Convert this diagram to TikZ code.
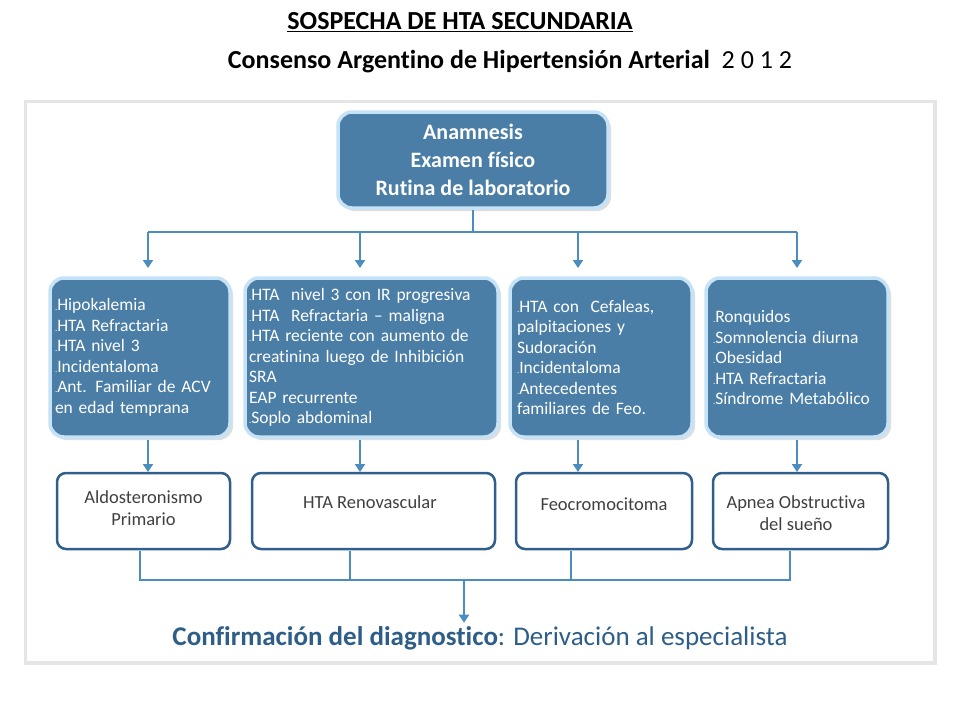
\documentclass[tikz,border=0pt]{standalone}
\usepackage{fontspec}
\setmainfont{Carlito}[Ligatures={NoCommon}]
\usetikzlibrary{arrows.meta,shadows}
\definecolor{bfill}{HTML}{4A7EA6}
\definecolor{bedge}{HTML}{C6E2F7}
\definecolor{lin}{HTML}{4B8DBE}
\definecolor{obord}{HTML}{2F5F8A}
\definecolor{ttl}{HTML}{2E5E88}
\newcommand{\bp}{{\fontsize{9}{9}\selectfont.}}
\tikzset{
 bluebox/.style={draw=bedge,line width=3.5pt,fill=bfill,rounded corners=14pt,text=white,
   drop shadow={shadow xshift=3pt,shadow yshift=-3pt,fill=black!25},
   font=\fontsize{17.5}{20.5}\selectfont,align=left,inner sep=4pt},
 outbox/.style={draw=obord,line width=2.5pt,fill=white,rounded corners=9pt,text=black!75,
   font=\fontsize{18.5}{22}\selectfont,align=center},
 conn/.style={draw=lin,line width=2.8pt},
 arr/.style={conn,-{Triangle[length=8pt,width=10pt]}}
}
\begin{document}
\begin{tikzpicture}[x=1pt,y=-1pt]
\useasboundingbox (0,0) rectangle (960,720);
\fill[black!10] (24,100) rectangle (937,665);
\fill[white] (27,103) rectangle (933,661);
\node[font=\bfseries\fontsize{26}{30}\selectfont] (t1) at (460,22) {\underline{SOSPECHA DE HTA SECUNDARIA}};
\node[font=\fontsize{26}{30}\selectfont] (t2) at (510,62) {\textbf{Consenso Argentino de Hipertensión Arterial}\ \ 2 0 1 2};
\node[bluebox,minimum width=270pt,minimum height=96pt,align=center,font=\bfseries\fontsize{22}{28}\selectfont] (top) at (473,160) {Anamnesis\\Examen físico\\Rutina de laboratorio};
\node[bluebox,minimum width=180pt,minimum height=159pt,text width=170pt] (b1) at (140,357.5) {\bp Hipokalemia\\\bp HTA Refractaria\\\bp HTA nivel 3\\\bp Incidentaloma\\\bp Ant. Familiar de ACV\\en edad temprana};
\node[bluebox,minimum width=251pt,minimum height=159pt,text width=245pt] (b2) at (371.5,357.5) {\bp HTA\ \ nivel 3 con IR progresiva\\\bp HTA\ \ Refractaria -- maligna\\\bp HTA reciente con aumento de\\creatinina luego de Inhibición SRA\\EAP recurrente\\\bp Soplo abdominal\\[12pt]};
\node[bluebox,minimum width=182pt,minimum height=159pt,text width=168pt] (b3) at (601,357.5) {\bp HTA con\ \ Cefaleas,\\palpitaciones y\\Sudoración\\\bp Incidentaloma\\\bp Antecedentes\\familiares de Feo.};
\node[bluebox,minimum width=182pt,minimum height=159pt,text width=168pt] (b4) at (797,357.5) {\bp Ronquidos\\\bp Somnolencia\ diurna\\\bp Obesidad\\\bp HTA Refractaria\\\bp Síndrome Metabólico\\[42pt]};
\node[outbox,minimum width=173pt,minimum height=76pt] (o1) at (143.5,511) {};
\node[outbox,minimum width=243pt,minimum height=76pt] (o2) at (373.5,511) {};
\node[outbox,minimum width=176pt,minimum height=76pt] (o3) at (604,511) {};
\node[outbox,minimum width=175pt,minimum height=76pt] (o4) at (800.5,511) {};
\node[outbox,draw=none,fill=none] (l1) at (143.5,508) {Aldosteronismo\\Primario};
\node[outbox,draw=none,fill=none] (l2) at (370,502) {HTA Renovascular};
\node[outbox,draw=none,fill=none] (l3) at (604,504) {Feocromocitoma};
\node[outbox,draw=none,fill=none] (l4) at (796,513) {Apnea Obstructiva\\del sueño};
\coordinate (h) at (473,232);
\draw[conn] (top.south) -- (h);
\draw[conn] (148,232) -- (797,232);
\foreach \x in {148,360,578,797}{
 \draw[arr] (\x,232) -- (\x,268);
 \draw[arr] (\x,440) -- (\x,472);
}
\draw[conn] (140,551) -- (140,580) -- (790,580) -- (790,551);
\draw[conn] (350,551) -- (350,580);
\draw[conn] (571,551) -- (571,580);
\node[text=ttl,font=\fontsize{27}{30}\selectfont] (conf) at (480,638) {\textbf{Confirmación del diagnostico}: Derivación al especialista};
\draw[arr] (464,580) -- (conf.north-|464,0);
\end{tikzpicture}
\end{document}
